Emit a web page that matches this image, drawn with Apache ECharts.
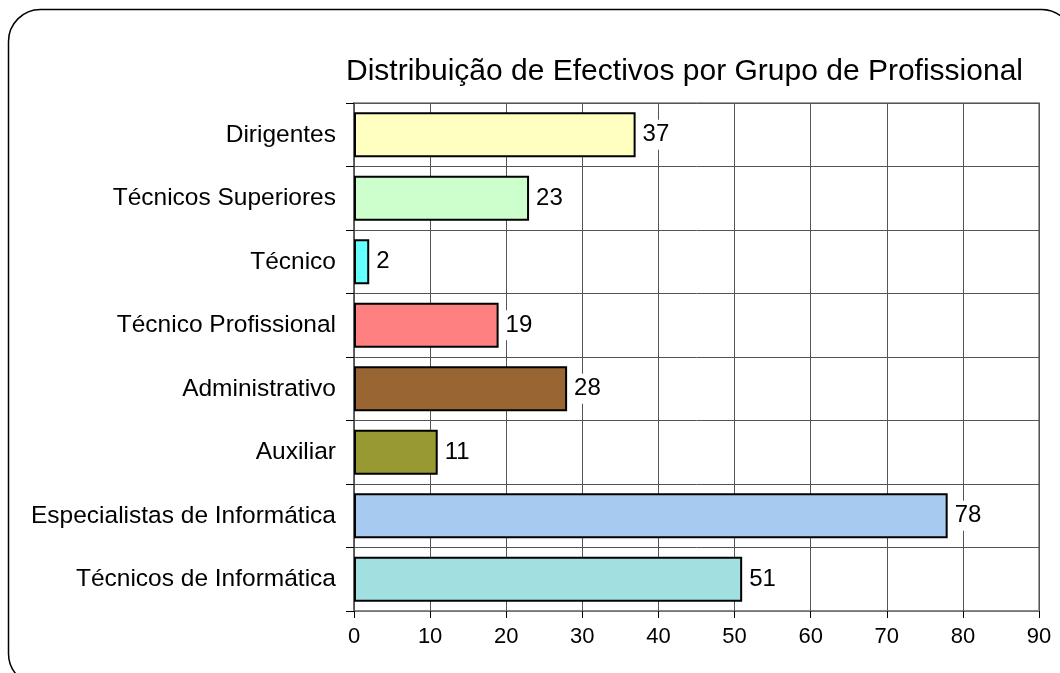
<!DOCTYPE html>
<html>
<head>
<meta charset="utf-8">
<script src="https://cdn.jsdelivr.net/npm/echarts@6/dist/echarts.min.js"></script>
<style>
html, body { margin: 0; padding: 0; background: #fff; }
#chart { width: 1060px; height: 673px; }
</style>
</head>
<body>
<div id="chart"></div>
<script>
// categorias (de cima para baixo)
var categorias = ['Dirigentes', 'Técnicos Superiores', 'Técnico', 'Técnico Profissional',
    'Administrativo', 'Auxiliar', 'Especialistas de Informática', 'Técnicos de Informática'];
var efectivos = [37, 23, 2, 19, 28, 11, 78, 51];
var cores = ['#FFFFC0', '#CCFFCC', '#66FFFF', '#FF8080', '#996633', '#999933', '#A6CAF0', '#A0E0E0'];

var fonte = '"Liberation Sans", Arial, sans-serif';

var myChart = echarts.init(document.getElementById('chart'));
var option = {
    animation: false,
    backgroundColor: '#fff',
    title: {
        text: 'Distribuição de Efectivos por Grupo de Profissional',
        left: 341,
        top: 52,
        textStyle: { fontFamily: fonte, fontSize: 30, fontWeight: 'normal', color: '#000' }
    },
    // moldura arredondada (cortada em baixo e à direita)
    graphic: [{
        type: 'rect',
        shape: { x: 8.5, y: 9.5, width: 1065, height: 676, r: 32 },
        style: { fill: 'none', stroke: '#000', lineWidth: 1.5 },
        z: -1
    }],
    grid: {
        left: 354, right: 21, top: 103, bottom: 62,
        show: true, borderColor: '#808080', borderWidth: 1.5
    },
    xAxis: {
        type: 'value',
        min: 0, max: 90, interval: 10,
        axisLine: { show: true, lineStyle: { color: '#808080', width: 1.5 } },
        axisTick: { show: true, length: 7, lineStyle: { color: '#000' } },
        axisLabel: { fontFamily: fonte, fontSize: 22, color: '#000', margin: 15 },
        splitLine: { show: true, lineStyle: { color: '#555', width: 1 } }
    },
    yAxis: {
        type: 'category',
        inverse: true,
        data: categorias,
        axisLine: { show: true, lineStyle: { color: '#555', width: 1.5 } },
        axisTick: { show: true, length: 8, lineStyle: { color: '#000' } },
        axisLabel: { fontFamily: fonte, fontSize: 24.5, color: '#000', margin: 18 },
        splitLine: { show: true, lineStyle: { color: '#555', width: 1 } }
    },
    series: [{
        type: 'bar',
        barWidth: 45,
        data: efectivos.map(function (v, i) {
            return { value: v, itemStyle: { color: cores[i] } };
        }),
        itemStyle: { borderColor: '#000', borderWidth: 2 },
        label: {
            show: true,
            position: 'right',
            distance: 5,
            fontFamily: fonte,
            fontSize: 24,
            color: '#000',
            backgroundColor: '#fff',
            padding: [3, 2]
        }
    }]
};
myChart.setOption(option);
</script>
</body>
</html>
